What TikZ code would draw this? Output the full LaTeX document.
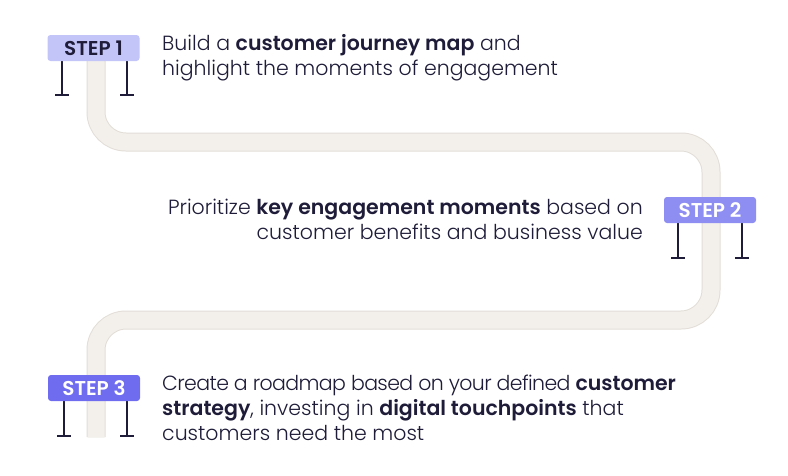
\documentclass[tikz,border=0pt]{standalone}
\usepackage{fontspec}
\setmainfont{Poppins}[UprightFont=* Light, BoldFont=* SemiBold]
\definecolor{ink}{HTML}{1E1C38}
\definecolor{road}{HTML}{F3F0EC}
\definecolor{roadedge}{HTML}{E2DDD7}
\definecolor{signA}{HTML}{C3C5F8}
\definecolor{signB}{HTML}{8D8DF2}
\definecolor{signC}{HTML}{6F6CF0}
\begin{document}
\begin{tikzpicture}[x=1pt,y=-1pt,
  txt/.style={inner sep=0pt,text=ink,font=\fontsize{20.5}{25}\selectfont},
  sign/.style={rounded corners=3pt,minimum width=92pt,minimum height=26pt,inner sep=0pt,font=\fontsize{20}{20}\selectfont\bfseries},
  post/.style={draw=ink,line width=1.8pt},
]
\useasboundingbox (0,0) rectangle (788,475);
% road
\draw[roadedge,line width=19pt,rounded corners=30pt]
  (96,45) -- (96,142) -- (711,142) -- (711,320) -- (96,320) -- (96,437);
\draw[road,line width=17pt,rounded corners=30pt]
  (96,45) -- (96,142) -- (711,142) -- (711,320) -- (96,320) -- (96,437.5);
% sign 1
\foreach \x in {62,127}{
  \draw[post] (\x,61) -- (\x,95);
  \draw[post] (\x-7,95) -- (\x+7,95);
}
\node[sign,fill=signA,text=ink] (s1) at (93.5,48) {STEP 1};
% sign 2
\foreach \x in {678,742}{
  \draw[post] (\x,223) -- (\x,258);
  \draw[post] (\x-7,258) -- (\x+7,258);
}
\node[sign,fill=signB,text=white] (s2) at (710,210) {STEP 2};
% sign 3
\foreach \x in {64,127}{
  \draw[post] (\x,401) -- (\x,436);
  \draw[post] (\x-7,436) -- (\x+7,436);
}
\node[sign,fill=signC,text=white] (s3) at (94,388) {STEP 3};
% texts
\node[txt,anchor=base west] (t1a) at (162,50) {Build a \textbf{customer journey map} and};
\node[txt,anchor=base west] (t1b) at (162,75) {highlight the moments of engagement};
\node[txt,anchor=base east] (t2a) at (643,214) {Prioritize \textbf{key engagement moments} based on};
\node[txt,anchor=base east] (t2b) at (643,239) {customer benefits and business value};
\node[txt,anchor=base west] (t3a) at (162,390) {{\addfontfeatures{LetterSpace=-3}Create a roadmap based on your defined} \textbf{customer}};
\node[txt,anchor=base west] (t3b) at (162,415) {\textbf{strategy}, investing in \textbf{digital touchpoints} that};
\node[txt,anchor=base west] (t3c) at (162,440) {customers need the most};
\end{tikzpicture}
\end{document}
